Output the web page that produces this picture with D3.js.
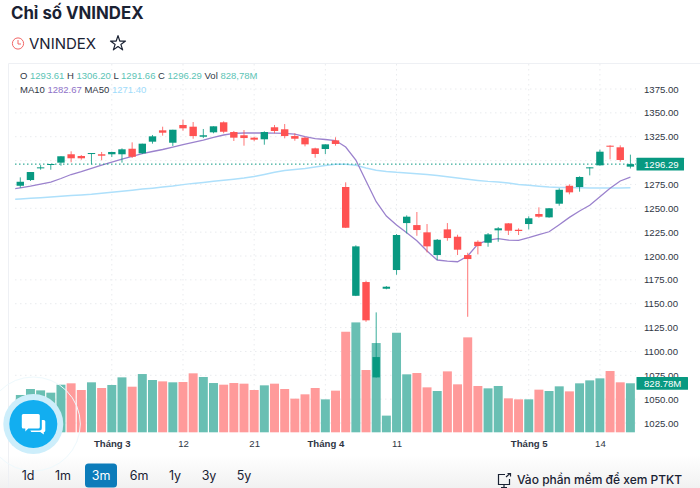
<!DOCTYPE html>
<html>
<head>
<meta charset="utf-8">
<script src="https://cdn.jsdelivr.net/npm/d3@7"></script>
<style>
html, body { margin: 0; padding: 0; background: #fff; }
svg { display: block; font-family: "Liberation Sans", sans-serif; }
</style>
</head>
<body>
<div id="chart"></div>
<script>
const open = [1273.6,1279.6,1291.9,1295.7,1297.8,1306.6,1304.8,1307.2,1306.6,1306.6,1306.6,1312.4,1307.6,1319.8,1331.7,1318.7,1337.3,1335.5,1325.0,1329.6,1340.1,1329.9,1326.5,1324.0,1322.3,1334.9,1332.8,1325.7,1324.0,1312.8,1312.1,1321.2,1272.3,1158.3,1172.7,1072.8,1165.7,1185.3,1234.5,1232.4,1224.8,1201.0,1227.9,1220.2,1201.0,1214.9,1213.9,1226.9,1234.2,1227.5,1233.5,1244.0,1240.5,1254.8,1273.6,1272.3,1292.2,1295.0,1315.6,1313.9,1293.61];
const high = [1282.4,1288.0,1295.3,1296.4,1304.5,1309.7,1305.8,1307.9,1309.0,1309.3,1312.8,1319.1,1317.7,1326.8,1335.5,1332.3,1342.8,1340.4,1333.1,1335.9,1341.1,1331.0,1332.0,1325.0,1330.7,1337.3,1338.3,1328.6,1324.7,1313.5,1317.0,1324.4,1277.2,1211.2,1174.1,1140.9,1168.5,1223.0,1242.6,1246.1,1233.5,1217.8,1234.5,1222.3,1203.4,1216.4,1224.1,1230.3,1234.5,1229.0,1241.6,1251.0,1250.3,1270.9,1275.1,1283.5,1292.9,1311.4,1316.0,1316.0,1306.20];
const low = [1271.5,1278.6,1290.4,1290.4,1294.6,1298.2,1300.9,1296.1,1300.3,1303.7,1297.8,1302.7,1306.9,1317.7,1326.1,1315.3,1331.3,1322.9,1323.6,1328.6,1328.6,1320.5,1315.6,1320.2,1316.6,1328.6,1323.3,1320.8,1314.9,1303.0,1306.9,1315.6,1229.3,1158.0,1131.1,1072.6,1165.1,1180.4,1223.7,1221.2,1203.8,1195.8,1216.0,1201.0,1136.3,1201.7,1209.7,1214.9,1222.0,1222.0,1227.9,1240.1,1240.1,1252.7,1264.6,1267.4,1284.5,1294.6,1301.3,1298.8,1291.66];
const close = [1277.8,1288.0,1292.9,1296.4,1304.5,1302.4,1302.4,1307.9,1305.1,1309.0,1311.8,1304.0,1317.7,1325.4,1329.2,1332.3,1333.8,1325.7,1326.5,1335.9,1330.2,1324.0,1323.6,1321.9,1329.9,1331.0,1325.7,1322.9,1317.0,1306.9,1317.0,1317.4,1229.6,1210.1,1132.6,1094.1,1167.8,1222.0,1241.2,1227.2,1210.1,1217.0,1218.8,1206.6,1196.8,1210.4,1222.7,1229.0,1226.5,1226.2,1239.5,1241.2,1250.0,1269.4,1266.7,1282.8,1292.9,1309.3,1314.5,1300.6,1296.29];
const volume = [631,732,709,670,805,828,715,845,749,800,929,771,985,884,861,845,850,997,935,833,805,833,822,715,794,822,732,569,642,749,557,704,1700,1858,1053,1509,282,1683,980,1002,760,698,1030,811,1605,783,743,783,574,557,557,721,698,777,692,828,878,912,1036,845,828.78];
// first value of each MA belongs to the session just left of the visible window
const ma10 = [1269.7,1271.5,1273.3,1275.4,1277.5,1281.2,1285.4,1288.5,1291.9,1295.3,1298.5,1301.6,1304.3,1307.2,1309.5,1311.6,1314.2,1316.8,1319.1,1321.5,1324.2,1326.8,1328.6,1328.9,1328.9,1328.9,1328.7,1328.4,1327.8,1325.2,1323.1,1322.1,1321.0,1314.2,1300.6,1278.6,1256.9,1241.9,1232.4,1224.4,1216.0,1205.2,1195.8,1194.7,1194.0,1200.0,1212.5,1216.7,1218.1,1216.7,1216.4,1219.3,1222.5,1225.4,1232.8,1240.5,1247.1,1253.1,1262.1,1270.9,1278.6,1282.67];
const ma50 = [1259.1,1259.7,1260.4,1261.1,1261.8,1262.5,1263.3,1264.0,1264.7,1265.7,1266.7,1267.8,1268.9,1270.1,1271.1,1272.3,1273.3,1274.8,1276.1,1277.1,1278.3,1279.3,1280.5,1281.7,1283.2,1285.4,1287.8,1289.6,1290.6,1291.6,1293.2,1294.8,1296.1,1296.1,1295.1,1292.2,1289.8,1288.6,1287.7,1287.1,1286.3,1285.5,1284.3,1283.1,1281.7,1280.4,1279.2,1278.2,1277.5,1276.5,1275.0,1274.1,1273.1,1272.3,1271.9,1271.7,1271.4,1271.2,1271.2,1271.2,1271.3,1271.40];
const priceTicks = d3.range(1025, 1376, 25);
const timeTickIdx = [9, 16, 23, 30, 37, 50, 57];
const timeTickLabels = ["Tháng 3", "12", "21", "Tháng 4", "11", "Tháng 5", "14"];
const ranges = ["1d", "1m", "3m", "6m", "1y", "3y", "5y"];
const rangeX = [28, 63, 101, 139, 175, 209, 244];
const activeRange = "3m";

const width = 700, height = 488;
const green = "#089981", red = "#ff5252";
const ink = "#1a2233";
const axisInk = "#2f3644";
const axisFont = "Liberation Sans";

const x = d3.scaleLinear().domain([-0.5, 60.5]).range([15.2, 635.5]);
const y = d3.scaleLinear().domain([1025, 1375]).range([423, 89]);
const yVol = d3.scaleLinear().domain([0, 2000]).range([432.3, 314]);
const bandW = x(1) - x(0);

const svg = d3.select("#chart").append("svg").attr("width", width).attr("height", height);

const defs = svg.append("defs");
defs.append("clipPath").attr("id", "pane").append("rect")
    .attr("x", 15.2).attr("y", 64).attr("width", 621).attr("height", 370);
const grad = defs.append("linearGradient").attr("id", "foot")
    .attr("x1", 0).attr("x2", 0).attr("y1", 0).attr("y2", 1);
grad.append("stop").attr("offset", 0).attr("stop-color", "#fff");
grad.append("stop").attr("offset", 1).attr("stop-color", "#f1f1f1");

svg.append("rect").attr("x", 0).attr("y", 455).attr("width", width).attr("height", 33).attr("fill", "url(#foot)");

// header
svg.append("text").attr("x", 11).attr("y", 19).attr("font-size", 16.8).attr("font-weight", 700)
    .attr("font-family", "Inter").attr("fill", ink).text("Chỉ số VNINDEX");
svg.append("circle").attr("cx", 18).attr("cy", 43.5).attr("r", 5.6).attr("fill", "none").attr("stroke", "#f26666").attr("stroke-width", 1);
svg.append("path").attr("d", "M18 40V44H21").attr("fill", "none").attr("stroke", "#f26666").attr("stroke-width", 1);
svg.append("text").attr("x", 29).attr("y", 49).attr("font-size", 15).attr("font-family", "Inter").attr("fill", ink).text("VNINDEX");
svg.append("path")
    .attr("transform", "translate(118,43.5)")
    .attr("d", d3.symbol(d3.symbolStar, 70)())
    .attr("fill", "none").attr("stroke", ink).attr("stroke-width", 1.2).attr("stroke-linejoin", "round");

// pane edges
svg.append("path").attr("d", "M8.5 488V63.5H700").attr("fill", "none").attr("stroke", "#eef0f4").attr("stroke-width", 1);

// grid
const grid = svg.append("g").attr("stroke", "#e9ebee").attr("stroke-dasharray", "1.5,3.5");
grid.selectAll("line.h").data(priceTicks).enter().append("line")
    .attr("x1", 15).attr("x2", 636).attr("y1", d => y(d)).attr("y2", d => y(d));
grid.selectAll("line.v").data(timeTickIdx).enter().append("line")
    .attr("x1", d => x(d)).attr("x2", d => x(d)).attr("y1", 64).attr("y2", 433);

const pane = svg.append("g").attr("clip-path", "url(#pane)");

// volume sits under the candles
pane.selectAll("rect.vol").data(volume).enter().append("rect")
    .attr("x", (d, i) => x(i) - bandW / 2 + 0.6)
    .attr("width", bandW - 1.2)
    .attr("y", d => yVol(d))
    .attr("height", d => yVol(0) - yVol(d))
    .attr("fill", (d, i) => close[i] >= open[i] ? "#69bfb3" : "#ff9a9a");

const line = d3.line().x((d, i) => x(i - 1)).y(d => y(d));
pane.append("path").datum(ma50).attr("d", line).attr("fill", "none").attr("stroke", "#aee0fb").attr("stroke-width", 1.5);
pane.append("path").datum(ma10).attr("d", line).attr("fill", "none").attr("stroke", "#9b82cd").attr("stroke-width", 1.3);

// candles
const candle = pane.selectAll("g.candle").data(open).enter().append("g")
    .attr("fill", (d, i) => close[i] >= open[i] ? green : red)
    .attr("stroke", (d, i) => close[i] >= open[i] ? green : red);
candle.append("line")
    .attr("x1", (d, i) => x(i)).attr("x2", (d, i) => x(i))
    .attr("y1", (d, i) => y(high[i])).attr("y2", (d, i) => y(low[i]))
    .attr("stroke-opacity", 0.8);
candle.append("rect")
    .attr("x", (d, i) => x(i) - 3.7)
    .attr("width", 7.4)
    .attr("y", (d, i) => y(Math.max(open[i], close[i])))
    .attr("height", (d, i) => Math.max(1, Math.abs(y(open[i]) - y(close[i]))))
    .attr("stroke", "none");

// last price line
const last = close[close.length - 1];
svg.append("line").attr("x1", 15).attr("x2", 636).attr("y1", y(last)).attr("y2", y(last))
    .attr("stroke", green).attr("stroke-dasharray", "1.5,2.5");

// axes
const yAxis = d3.axisRight(y).tickValues(priceTicks).tickFormat(d3.format(".2f")).tickSize(0).tickPadding(0);
svg.append("g").attr("transform", "translate(644,0)").call(yAxis)
    .attr("font-family", axisFont).attr("font-size", 9.6)
    .call(g => g.select(".domain").remove())
    .selectAll("text").attr("fill", axisInk);

const xAxis = d3.axisBottom(x).tickValues(timeTickIdx)
    .tickFormat(d => timeTickLabels[timeTickIdx.indexOf(d)]).tickSize(0).tickPadding(0);
svg.append("g").attr("transform", "translate(0,440)").call(xAxis)
    .attr("font-family", axisFont).attr("font-size", 9.6)
    .call(g => g.select(".domain").remove())
    .selectAll("text").attr("fill", axisInk)
    .attr("font-weight", (d, i) => timeTickLabels[i].startsWith("Tháng") ? 700 : 400);

// value tags on the right
function tag(tx, ty, w, label) {
    svg.append("rect").attr("x", tx).attr("y", ty - 6.4).attr("width", w).attr("height", 12.8).attr("fill", green).attr("rx", 0.5);
    svg.append("text").attr("x", tx + 7.5).attr("y", ty + 3.4).attr("font-size", 9.6).attr("fill", "#fff").text(label);
}
tag(636.5, y(last), 47.5, d3.format(".2f")(last));
tag(636.5, yVol(volume[volume.length - 1]), 51.5, "828.78M");

// OHLC legend
function legendRow(ly, parts) {
    const t = svg.append("text").attr("x", 20).attr("y", ly).attr("font-size", 9.5).attr("fill", "#2f3644");
    parts.forEach(p => t.append("tspan").attr("fill", p[1] || null).text(p[0]));
}
const mint = "#5cc4b5";
legendRow(79, [["O "], ["1293.61", mint], [" H "], ["1306.20", mint], [" L "], ["1291.66", mint], [" C "], ["1296.29", mint], [" Vol "], ["828,78M", mint]]);
legendRow(93, [["MA10 "], ["1282.67", "#8f72c8"], [" MA50 "], ["1271.40", "#9fdcfb"]]);

// chat bubble button
const chat = svg.append("g").attr("transform", "translate(33.3,424)");
chat.append("circle").attr("r", 47).attr("fill", "none").attr("stroke", "#eef9fd").attr("stroke-width", 1);
chat.append("circle").attr("r", 30).attr("fill", "#cdeefb");
chat.append("circle").attr("r", 24).attr("fill", "#12aef0");
chat.append("path").attr("d", "M-10 -10H5a1.5 1.5 0 0 1 1.5 1.5V3a1.5 1.5 0 0 1 -1.5 1.5H-5L-8 7.5V4.5H-10A1.5 1.5 0 0 1 -11.5 3V-8.5A1.5 1.5 0 0 1 -10 -10Z").attr("fill", "#fff");
chat.append("path").attr("d", "M8.5 -4H10.5A1.5 1.5 0 0 1 12 -2.5V6.5A1.5 1.5 0 0 1 10.5 8V10.5L7 8H-2L-3 6.5H6A2.5 2.5 0 0 0 8.5 4Z").attr("fill", "#fff");

// range buttons
svg.append("rect").attr("x", 85).attr("y", 463.5).attr("width", 32).attr("height", 24).attr("rx", 3.5).attr("fill", "#0c7cba");
svg.selectAll("text.range").data(ranges).enter().append("text")
    .attr("class", "range")
    .attr("x", (d, i) => rangeX[i]).attr("y", 480)
    .attr("text-anchor", "middle").attr("font-size", 12.5).attr("font-family", "Inter")
    .attr("fill", d => d === activeRange ? "#fff" : ink).text(d => d);

// link to the TA software
const mon = svg.append("g").attr("fill", "none").attr("stroke", ink).attr("stroke-width", 1.2);
mon.append("path").attr("d", "M505 474.5H498.5V484.5H509.5V479");
mon.append("path").attr("d", "M501 487.5H507M504 484.5V487.5");
mon.append("path").attr("d", "M506 477L510 473.5M507.5 473.5H510.5V476.5");
svg.append("text").attr("x", 517).attr("y", 483.5).attr("font-size", 12).attr("font-family", "Inter")
    .attr("font-weight", 500).attr("fill", ink).text("Vào phần mềm để xem PTKT");
</script>
</body>
</html>
